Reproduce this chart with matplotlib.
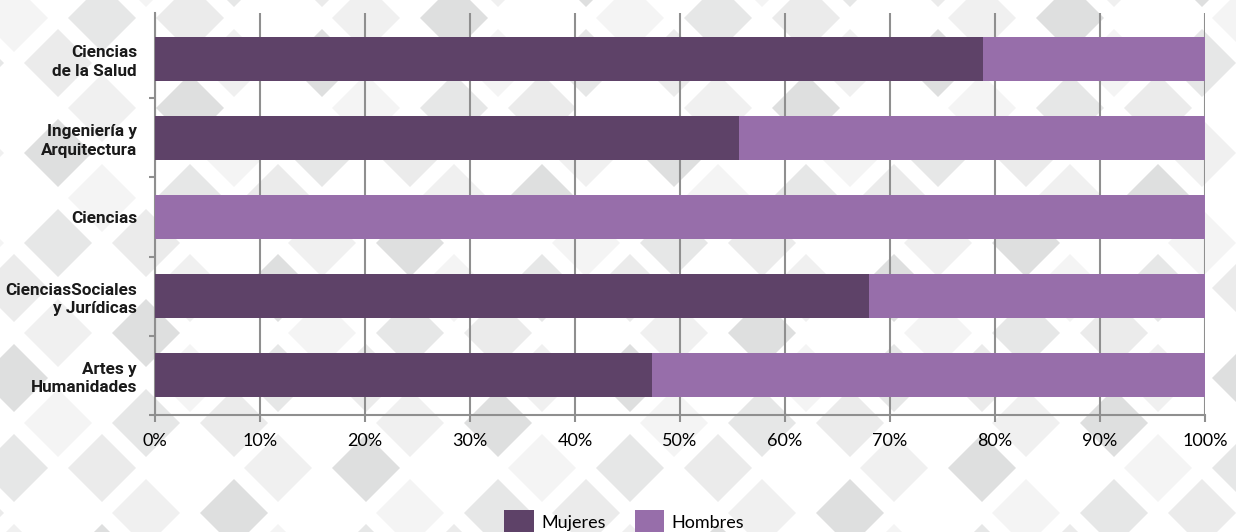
import matplotlib.pyplot as plt
from matplotlib.patches import Polygon
from matplotlib.ticker import PercentFormatter

# data (percent)
categories = ['Ciencias\nde la Salud', 'Ingeniería y\nArquitectura', 'Ciencias',
              'CienciasSociales\ny Jurídicas', 'Artes y\nHumanidades']
mujeres = [78.9, 55.6, 0.0, 68.0, 47.3]
hombres = [100 - m for m in mujeres]

col_muj = '#5e4268'
col_hom = '#976eaa'
grid_col = '#8f8f8f'

fig = plt.figure(figsize=(12.36, 5.32), dpi=100)

# decorative diamond background
bg = fig.add_axes([0, 0, 1, 1], zorder=0)
bg.set_xlim(0, 1236)
bg.set_ylim(532, 0)
bg.axis('off')
shades = ['#e6e7e7', '#f4f4f4', '#ffffff', '#dedfdf', '#f0f0f0', '#ffffff', '#ebebeb']
h = 34
for m in range(-2, 16):
    for k in range(-2, 32):
        if (k + m) % 2:
            continue
        cx = 14 + 44 * k
        cy = 468 - 45 * m
        c = shades[(3 * k + 5 * m) % len(shades)]
        bg.add_patch(Polygon([(cx - h, cy), (cx, cy - h), (cx + h, cy), (cx, cy + h)],
                             closed=True, facecolor=c, edgecolor='none'))

ax = fig.add_axes([155 / 1236, 1 - 415 / 532, 1050 / 1236, 402 / 532], zorder=1)
ax.set_facecolor('none')

y = list(range(len(categories)))
ax.barh(y, mujeres, height=0.555, color=col_muj, label='Mujeres', zorder=3)
ax.barh(y, hombres, left=mujeres, height=0.555, color=col_hom, label='Hombres', zorder=3)

ax.set_xlim(0, 100)
ax.set_ylim(len(categories) - 0.5, -0.575)
ax.set_xticks(range(0, 101, 10))
ax.xaxis.set_major_formatter(PercentFormatter(decimals=0))
ax.grid(axis='x', color=grid_col, linewidth=1.5, zorder=1)

# category labels between boundary ticks
ax.set_yticks([i + 0.5 for i in range(0, len(categories))])
ax.set_yticklabels([])
ax.set_yticks(y, minor=True)
ax.set_yticklabels(categories, minor=True, fontsize=12.3, fontweight='bold',
                   family=['Roboto', 'DejaVu Sans'], color='#1a1a1a',
                   linespacing=1.3)
ax.tick_params(axis='y', which='major', length=4, width=1.5, color=grid_col)
ax.tick_params(axis='y', which='minor', length=0, pad=13)
ax.tick_params(axis='x', length=5, width=1.5, color=grid_col, labelsize=13, pad=8)
for lab in ax.get_xticklabels():
    lab.set_family(['Lato', 'DejaVu Sans'])

for s in ['top', 'right']:
    ax.spines[s].set_visible(False)
for s in ['left', 'bottom']:
    ax.spines[s].set_color(grid_col)
    ax.spines[s].set_linewidth(1.5)

fig.legend(loc='lower center', bbox_to_anchor=(0.505, -0.035), ncol=2, frameon=False,
           prop={'family': ['Lato', 'DejaVu Sans'], 'size': 13},
           handlelength=1.65, handleheight=1.7, columnspacing=1.6, handletextpad=0.4)

fig.savefig('out.png', dpi=100)
